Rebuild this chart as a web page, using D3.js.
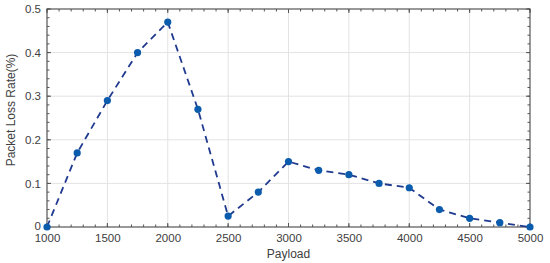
<!DOCTYPE html>
<html>
<head>
<meta charset="utf-8">
<script src="https://cdn.jsdelivr.net/npm/d3@7"></script>
<style>
  body { margin: 0; background: #fff; }
  text { font-family: "Liberation Sans", Arial, sans-serif; fill: #404040; }
</style>
</head>
<body>
<div id="display"></div>
<script>
var width = 550,
    height = 263;

// data
var payload = [1000, 1250, 1500, 1750, 2000, 2250, 2500, 2750, 3000, 3250, 3500, 3750, 4000, 4250, 4500, 4750, 5000];
var lossRate = [0, 0.17, 0.29, 0.40, 0.47, 0.27, 0.025, 0.08, 0.15, 0.13, 0.12, 0.10, 0.09, 0.04, 0.02, 0.01, 0];
var xTicks = [1000, 1500, 2000, 2500, 3000, 3500, 4000, 4500, 5000];
var yTicks = [0, 0.1, 0.2, 0.3, 0.4, 0.5];

var margin = { left: 47, right: 20, top: 9, bottom: 36 };
var pw = width - margin.left - margin.right,
    ph = height - margin.top - margin.bottom;

var svg = d3.select("#display")
    .append("svg")
    .attr("width", width)
    .attr("height", height);

var g = svg.append("g")
    .attr("transform", "translate(" + margin.left + "," + margin.top + ")");

var x = d3.scaleLinear().domain([1000, 5000]).range([0, pw]);
var y = d3.scaleLinear().domain([0, 0.5]).range([ph, 0]);

// grid
g.selectAll(".vgrid")
    .data(xTicks.slice(1, -1))
    .enter()
    .append("line")
    .attr("x1", d => x(d)).attr("x2", d => x(d))
    .attr("y1", 0).attr("y2", ph)
    .attr("stroke", "#e3e3e3").attr("stroke-width", 1);

g.selectAll(".hgrid")
    .data(yTicks.slice(1, -1))
    .enter()
    .append("line")
    .attr("y1", d => y(d)).attr("y2", d => y(d))
    .attr("x1", 0).attr("x2", pw)
    .attr("stroke", "#e3e3e3").attr("stroke-width", 1);

// minor + major ticks, inward, on all four sides
var xMinor = d3.range(1000, 5001, 100);
var yMinor = d3.range(0, 0.5001, 0.02);

function drawTicks(vals, scale, horiz, pos, dir, len) {
    g.append("g").selectAll("line")
        .data(vals)
        .enter()
        .append("line")
        .attr("x1", d => horiz ? scale(d) : pos)
        .attr("x2", d => horiz ? scale(d) : pos + dir * len)
        .attr("y1", d => horiz ? pos : scale(d))
        .attr("y2", d => horiz ? pos + dir * len : scale(d))
        .attr("stroke", "#555").attr("stroke-width", 1);
}
drawTicks(xMinor, x, true, ph, -1, 2.5);
drawTicks(xMinor, x, true, 0, 1, 2.5);
drawTicks(yMinor, y, false, 0, 1, 2.5);
drawTicks(yMinor, y, false, pw, -1, 2.5);
drawTicks(xTicks, x, true, ph, -1, 4);
drawTicks(xTicks, x, true, 0, 1, 4);
drawTicks(yTicks, y, false, 0, 1, 4);
drawTicks(yTicks, y, false, pw, -1, 4);

// box
g.append("rect")
    .attr("width", pw).attr("height", ph)
    .attr("fill", "none")
    .attr("stroke", "#555").attr("stroke-width", 1.2);

// axes labels via d3 axes
var xAxis = g.append("g")
    .attr("transform", "translate(0," + ph + ")")
    .call(d3.axisBottom(x).tickValues(xTicks).tickSize(0).tickPadding(7).tickFormat(d3.format("d")));
var yAxis = g.append("g")
    .call(d3.axisLeft(y).tickValues(yTicks).tickSize(0).tickPadding(6).tickFormat(d => d === 0 ? "0" : d3.format(".1f")(d)));

xAxis.select(".domain").remove();
yAxis.select(".domain").remove();
xAxis.selectAll("text")
    .style("font-family", "'Liberation Sans', Arial, sans-serif")
    .style("font-size", "11.5px").attr("fill", "#404040");
yAxis.selectAll("text")
    .style("font-family", "'Liberation Sans', Arial, sans-serif")
    .style("font-size", "11.5px").attr("fill", "#404040")
    .attr("dy", d => d === 0 ? "0.2em" : "0.32em");

// line + markers
var line = d3.line()
    .x((d, i) => x(payload[i]))
    .y(d => y(d));

g.append("path")
    .datum(lossRate)
    .attr("d", line)
    .attr("fill", "none")
    .attr("stroke", "#1f3a8f")
    .attr("stroke-width", 1.8)
    .attr("stroke-dasharray", "7,5");

g.selectAll(".pt")
    .data(lossRate)
    .enter()
    .append("circle")
    .attr("class", "pt")
    .attr("cx", (d, i) => x(payload[i]))
    .attr("cy", d => y(d))
    .attr("r", 3.6)
    .attr("fill", "#0b5cad");

// titles
svg.append("text")
    .attr("x", margin.left + pw / 2)
    .attr("y", 258)
    .attr("text-anchor", "middle")
    .style("font-size", "12px")
    .text("Payload");

svg.append("text")
    .attr("transform", "translate(15,110) rotate(-90)")
    .attr("text-anchor", "middle")
    .style("font-size", "12px")
    .text("Packet Loss Rate(%)");
</script>
</body>
</html>
